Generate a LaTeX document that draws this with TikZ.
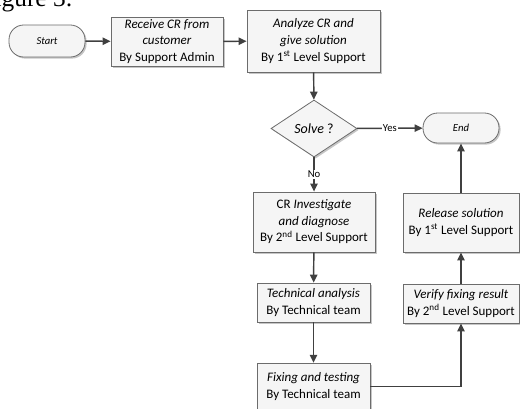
\documentclass[tikz,border=0pt]{standalone}
\usepackage{fontspec}
\setmainfont{Carlito}
\newfontfamily\capfont{Liberation Serif}
\usetikzlibrary{shapes.geometric,shadows,arrows.meta}
\begin{document}
\begin{tikzpicture}[x=0.75pt,y=-0.75pt,
		box/.style={draw=gray!85!black, fill=gray!8, line width=0.6pt, align=center, inner sep=0pt,
			font=\fontsize{9.75}{12.4}\selectfont,
			drop shadow={shadow xshift=1.2pt, shadow yshift=-1.2pt, fill=gray!45, opacity=1}},
		term/.style={box, rounded corners=11pt, font=\fontsize{8}{10}\selectfont\itshape},
		decide/.style={box, diamond},
		flow/.style={line width=1.1pt, draw=black!75, -{Triangle[length=6pt,width=5.5pt]}},
		flowlabel/.style={fill=white, inner sep=1pt, font=\fontsize{8}{10}\selectfont}]
	\useasboundingbox (0,0) rectangle (520,408);

	% caption cut at the page edge
	\node[anchor=base east, inner sep=0pt, font=\capfont\fontsize{19}{22}\selectfont] (caption) at (73,6) {Figure 3:};

	% top row
	\node[term, minimum width=57pt, minimum height=24pt] (start) at (47,41) {Start};
	\node[box, minimum width=84pt, minimum height=36.75pt] (receive) at (167,41.5)
		{\textit{Receive CR from}\\\textit{customer}\\By Support Admin};
	\node[box, minimum width=99.75pt, minimum height=46.5pt] (analyze) at (313.5,41)
		{\textit{Analyze CR and}\\\textit{give solution}\\By 1\textsuperscript{st} Level Support};

	% decision
	\node[decide, minimum width=64.5pt, minimum height=42.75pt, font=\fontsize{10.5}{12}\selectfont] (solve) at (314,128.5) {\textit{Solve} ?};
	\node[term, minimum width=57pt, minimum height=22.5pt] (end) at (461,128) {End};

	% left column
	\node[box, minimum width=91.5pt, minimum height=45pt] (investigate) at (314,222)
		{CR \textit{Investigate}\\\textit{and diagnose}\\By 2\textsuperscript{nd} Level Support};
	\node[box, minimum width=84.75pt, minimum height=29.25pt] (analysis) at (313.5,302.5)
		{\textit{Technical analysis}\\By Technical team};
	\node[box, minimum width=84.75pt, minimum height=35pt] (fixing) at (313.5,386.5)
		{\textit{Fixing and testing}\\By Technical team};

	% right column
	\node[box, minimum width=87pt, minimum height=29.25pt] (verify) at (461,303.5)
		{\textit{Verify fixing result}\\By 2\textsuperscript{nd} Level Support};
	\node[box, minimum width=87pt, minimum height=44.25pt] (release) at (461,222.5)
		{\textit{Release solution}\\By 1\textsuperscript{st} Level Support};

	\draw[flow] (start) -- (receive);
	\draw[flow] (receive) -- (analyze);
	\draw[flow] (analyze) -- (solve);
	\draw[flow] (solve) -- node[flowlabel] {Yes} (end);
	\draw[flow] (solve) -- node[flowlabel] {No} (investigate);
	\draw[flow] (investigate) -- (analysis);
	\draw[flow] (analysis) -- (fixing);
	\draw[flow] (fixing) -| (verify);
	\draw[flow] (verify) -- (release);
	\draw[flow] (release) -- (end);

\end{tikzpicture}
\end{document}
